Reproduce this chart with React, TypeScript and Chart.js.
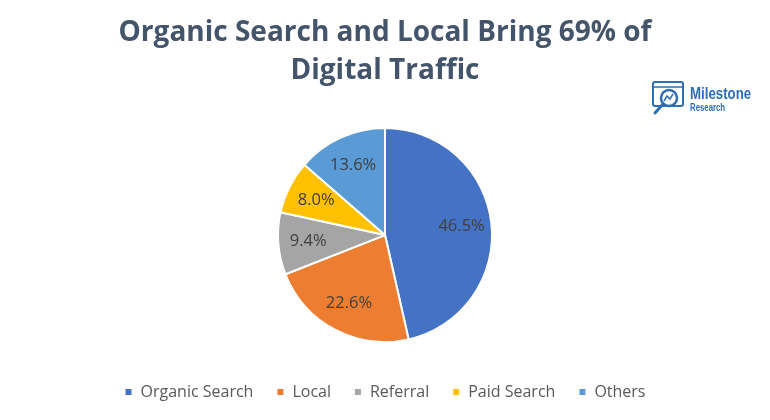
import React, { useEffect, useRef } from "react";
import { Chart, registerables } from "chart.js";

Chart.register(...registerables);

const titleLines = ["Organic Search and Local Bring 69% of", "Digital Traffic"];
const categories = ["Organic Search", "Local", "Referral", "Paid Search", "Others"];
const shares = [46.5, 22.6, 9.4, 8.0, 13.6];
const sliceColors = ["#4472C4", "#ED7D31", "#A5A5A5", "#FFC000", "#5B9BD5"];

const FONT = "'Open Sans', Lato, sans-serif";

const labelPlugin = {
  id: "sliceLabels",
  afterDatasetsDraw(chart: any) {
    const ctx = chart.ctx;
    const meta = chart.getDatasetMeta(0);
    ctx.save();
    ctx.font = `16.5px ${FONT}`;
    ctx.fillStyle = "#404040";
    ctx.textAlign = "center";
    ctx.textBaseline = "middle";
    meta.data.forEach((arc: any, i: number) => {
      const p = arc.getProps(["x", "y", "startAngle", "endAngle", "outerRadius"], true);
      const mid = (p.startAngle + p.endAngle) / 2;
      const r = p.outerRadius * 0.72;
      const x = p.x + Math.cos(mid) * r;
      const y = p.y + Math.sin(mid) * r;
      ctx.fillText(shares[i].toFixed(1) + "%", x, y);
    });
    ctx.restore();
  },
};

function Logo() {
  return (
    <div style={{ position: "absolute", left: 651, top: 80, display: "flex", alignItems: "center", gap: 3 }}>
      <svg width="36" height="38" viewBox="0 0 36 38">
        <rect x="2" y="2" width="30" height="24" rx="2" fill="none" stroke="#2F6DB5" strokeWidth="2" />
        <line x1="2" y1="7" x2="32" y2="7" stroke="#2F6DB5" strokeWidth="1.5" />
        <circle cx="18" cy="18" r="8" fill="#fff" stroke="#2F6DB5" strokeWidth="2.5" />
        <polyline points="13,21 16,16 19,19 22,14" fill="none" stroke="#2F6DB5" strokeWidth="1.5" />
        <line x1="12" y1="24" x2="4" y2="33" stroke="#2F6DB5" strokeWidth="3" strokeLinecap="round" />
      </svg>
      <div style={{ display: "flex", flexDirection: "column", lineHeight: 1, transformOrigin: "left center", transform: "scaleX(0.78)" }}>
        <span style={{ fontFamily: "'Liberation Sans', sans-serif", fontWeight: 700, fontSize: 17, color: "#2F6DB5" }}>Milestone</span>
        <span style={{ fontFamily: "'Liberation Sans', sans-serif", fontWeight: 700, fontSize: 10, color: "#2F6DB5", marginTop: 1 }}>Research</span>
      </div>
    </div>
  );
}

export default function App() {
  const canvasRef = useRef<HTMLCanvasElement>(null);

  useEffect(() => {
    document.body.style.margin = "0";
    const chart = new Chart(canvasRef.current!, {
      type: "pie",
      data: {
        labels: categories,
        datasets: [
          {
            data: shares,
            backgroundColor: sliceColors,
            borderColor: "#FFFFFF",
            borderWidth: 2,
            radius: 107,
          },
        ],
      },
      options: {
        animation: false,
        responsive: false,
        maintainAspectRatio: false,
        layout: { padding: { top: 3, bottom: 10, left: 0, right: 0 } },
        plugins: {
          title: {
            display: true,
            text: titleLines,
            color: "#44546A",
            font: { family: FONT, size: 28, weight: "bold", lineHeight: 1.36 },
            padding: { top: 11, bottom: 19 },
          },
          legend: {
            position: "bottom",
            labels: {
              color: "#595959",
              font: { family: FONT, size: 16 },
              boxWidth: 8,
              boxHeight: 8,
              padding: 23,
            },
          },
          tooltip: { enabled: false },
        },
      },
      plugins: [labelPlugin],
    });
    return () => chart.destroy();
  }, []);

  return (
    <div style={{ position: "relative", width: 770, height: 420, background: "#fff" }}>
      <canvas ref={canvasRef} width={770} height={420} style={{ display: "block" }} />
      <Logo />
    </div>
  );
}
